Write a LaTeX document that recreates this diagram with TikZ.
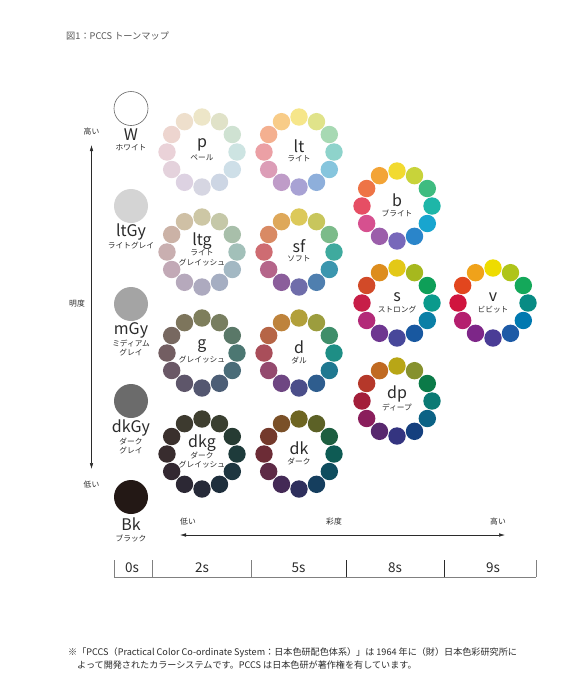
\documentclass[tikz,border=0pt]{standalone}
\usepackage{fontspec}
\setmainfont{Noto Sans CJK JP}
\usetikzlibrary{arrows.meta,calc}
\definecolor{txt}{HTML}{2B2B2B}
\definecolor{ttl}{HTML}{555555}
\definecolor{ltGyC}{HTML}{D4D4D4}
\definecolor{mGyC}{HTML}{A4A4A4}
\definecolor{dkGyC}{HTML}{6B6B6B}
\definecolor{BkC}{HTML}{231815}
\newcommand\tonering[4]{%
  \coordinate (#1) at (#2,#3);
  \foreach \c [count=\i from 0] in {#4} {%
    \edef\mytmpcol{\noexpand\definecolor{dotc}{HTML}{\c}}\mytmpcol
    \fill[dotc] ($(#1)+({-90+30*\i}:35)$) circle[radius=8.7pt];
  }%
}
\tikzset{
  big/.style={inner sep=0pt, text=txt, font=\fontsize{16}{16}\selectfont},
  small/.style={inner sep=0pt, text=txt, font=\fontsize{7.7}{9.5}\selectfont, align=center},
  grayc/.style={circle, minimum size=34pt, inner sep=0pt},
  axislbl/.style={inner sep=0pt, text=txt, font=\fontsize{7.8}{8}\selectfont},
  scalelbl/.style={inner sep=0pt, text=txt, font=\fontsize{13.5}{14}\selectfont},
  foot/.style={inner sep=0pt, anchor=west, text=txt, font=\fontsize{9.1}{10}\selectfont},
  arr/.style={line width=0.5pt, draw=txt, {Latex[length=6pt,width=3.5pt]}-{Latex[length=6pt,width=3.5pt]}},
  thintick/.style={line width=0.5pt, draw=gray},
  thicktick/.style={line width=1pt, draw=txt},
}
\begin{document}
\begin{tikzpicture}[x=1pt,y=-1pt]
\useasboundingbox[fill=white] (0,0) rectangle (569,694);

% title
\node[inner sep=0pt, anchor=west, text=ttl, font=\fontsize{9.2}{10}\selectfont] (title) at (66,36) {図1：PCCS トーンマップ};

% gray column
\node[grayc, draw=gray!80!black, line width=0.6pt, fill=white] (W) at (131,108.5) {};
\node[big] (W-l) at (131,135) {W};
\node[small] (W-s) at (131,147.5) {ホワイト};

\node[grayc, fill=ltGyC] (ltGy) at (131,206) {};
\node[big] (ltGy-l) at (131,232) {ltGy};
\node[small] (ltGy-s) at (131,245.5) {ライトグレイ};

\node[grayc, fill=mGyC] (mGy) at (131,304) {};
\node[big] (mGy-l) at (131,330) {mGy};
\node[small] (mGy-s) at (131,348) {ミディアム\\グレイ};

\node[grayc, fill=dkGyC] (dkGy) at (131,401) {};
\node[big] (dkGy-l) at (131,428) {dkGy};
\node[small] (dkGy-s) at (131,446) {ダーク\\グレイ};

\node[grayc, fill=BkC] (Bk) at (131,497) {};
\node[big] (Bk-l) at (131,524) {Bk};
\node[small] (Bk-s) at (131,538.5) {ブラック};

% lightness axis
\coordinate (vtop) at (91.5,145);
\coordinate (vbot) at (91.5,469);
\draw[arr] (vtop) -- (vbot);
\node[axislbl] (hi1) at (91.5,132) {高い};
\node[axislbl] (mei) at (77,304) {明度};
\node[axislbl] (lo1) at (91.5,485) {低い};

% tone rings
\tonering{p}{202}{152}{EDE6C8,E0E2C8,CFE2D2,CDE4E2,CEDFE8,CDD6E4,D6D6E2,DDD2E2,E4D2DC,EAD2D8,EDD5CF,EEDFCC}
\tonering{lt}{299}{152}{F6E68A,E0E38A,A7D9B3,8ED3CB,86C5DD,8EAFDB,A8A2D4,BF9CC8,DC9DB7,EBA0A5,F4B090,F8CC88}
\tonering{ltg}{202}{252}{CDC7A5,C5C8A8,A8BFAA,A2C0B9,A3B8C3,A5AEC2,ADAABF,B6A9BC,C2A9B6,C9AFB0,CBB2A6,CFC0A5}
\tonering{sf}{299}{252}{DCC95A,C8C65C,7CBB8A,3FAA9E,3B96AE,4F7FAF,6F6DAA,8B5E9B,B5658A,CE6C72,D98A64,DEA85A}
\tonering{g}{202}{353}{7E7E5C,787E60,5A7868,4C7772,4A6C78,4C5E76,545770,5E566A,6A5866,735E62,776860,7D755C}
\tonering{d}{299}{353}{B2A03A,9C9D3E,3F8E6A,1E8E85,1F7890,2E5D8E,4B4E8A,6E4682,944A6E,A94E5A,B66546,BE833C}
\tonering{dkg}{202}{454}{3F3F30,3A3F30,263B33,1E3B3B,1E3640,1E2E3C,262A38,2C2834,332831,382C2E,3A302D,3D3A2F}
\tonering{dk}{299}{454}{6E6522,5C6126,1D5E40,0E5B54,0E4D5E,153E5E,2E2F5C,442A56,5E2A46,6C2C36,743A2C,7A5028}
\tonering{b}{397}{206}{F2DA30,C8D33A,3FBC80,1EB6A8,18A5CF,2A85CA,7768BA,9B5EAA,D6508F,E64E64,EE7446,F3A436}
\tonering{s}{397}{303}{E3C817,A6B81E,0E9F58,0A9A8C,0A7FA6,1858A0,47479A,6E3690,B32A78,C71E48,D24A28,DD8D1E}
\tonering{v}{493}{303}{EEDC00,AFC41A,14A85A,088B84,0079B0,1D5AA6,4A3C96,7D2688,B41E6E,D0143E,E2461E,F0A21A}
\tonering{dp}{397}{401}{B8A616,86912E,0B7A48,0A7A74,0B6285,15407E,343480,58286E,8A1E5C,A31E3A,B5382A,C06A22}

% ring labels
\node[big] (p-l) at ($(p)+(0,-7)$) {p};
\node[small] (p-s) at ($(p)+(0,6)$) {ペール};
\node[big] (lt-l) at ($(lt)+(0,-6)$) {lt};
\node[small] (lt-s) at ($(lt)+(0,7)$) {ライト};
\node[big] (ltg-l) at ($(ltg)+(0,-11)$) {ltg};
\node[small] (ltg-s) at ($(ltg)+(0,6)$) {ライト\\グレイッシュ};
\node[big] (sf-l) at ($(sf)+(0,-6)$) {sf};
\node[small] (sf-s) at ($(sf)+(0,7)$) {ソフト};
\node[big] (g-l) at ($(g)+(0,-7)$) {g};
\node[small] (g-s) at ($(g)+(0,7)$) {グレイッシュ};
\node[big] (d-l) at ($(d)+(0,-6)$) {d};
\node[small] (d-s) at ($(d)+(0,7)$) {ダル};
\node[big] (dkg-l) at ($(dkg)+(0,-11)$) {dkg};
\node[small] (dkg-s) at ($(dkg)+(0,6)$) {ダーク\\グレイッシュ};
\node[big] (dk-l) at ($(dk)+(0,-6)$) {dk};
\node[small] (dk-s) at ($(dk)+(0,7)$) {ダーク};
\node[big] (b-l) at ($(b)+(0,-6)$) {b};
\node[small] (b-s) at ($(b)+(0,7)$) {ブライト};
\node[big] (s-l) at ($(s)+(0,-6)$) {s};
\node[small] (s-s) at ($(s)+(0,7)$) {ストロング};
\node[big] (v-l) at ($(v)+(0,-6)$) {v};
\node[small] (v-s) at ($(v)+(0,7)$) {ビビット};
\node[big] (dp-l) at ($(dp)+(0,-7)$) {dp};
\node[small] (dp-s) at ($(dp)+(0,7)$) {ディープ};

% chroma axis
\coordinate (hl) at (180,535);
\coordinate (hr) at (505,535);
\draw[arr] (hl) -- (hr);
\node[axislbl] (lo2) at (188,522) {低い};
\node[axislbl] (sai) at (334,522) {彩度};
\node[axislbl] (hi2) at (498,522) {高い};

% chroma scale
\coordinate (sb0) at (114,577);
\coordinate (sb5) at (536,577);
\draw[thintick] (sb0) -- (sb5);
\draw[thintick] (114,560) -- (114,577);
\draw[thintick] (152.5,560) -- (152.5,577);
\draw[thintick] (251,560) -- (251,577);
\draw[thicktick] (346.5,560) -- (346.5,577);
\draw[thicktick] (444,560) -- (444,577);
\draw[thintick] (536,560) -- (536,577);
\node[scalelbl] (s0) at (132,568) {0s};
\node[scalelbl] (s2) at (202,568) {2s};
\node[scalelbl] (s5) at (298.5,568) {5s};
\node[scalelbl] (s8) at (395,568) {8s};
\node[scalelbl] (s9) at (493,568) {9s};

% footnote
\node[foot] (fn1) at (68,652.5) {※「PCCS（Practical Color Co-ordinate System：日本色研配色体系）」は 1964 年に（財）日本色彩研究所に};
\node[foot] (fn2) at (77,665.5) {よって開発されたカラーシステムです。PCCS は日本色研が著作権を有しています。};
\end{tikzpicture}
\end{document}
